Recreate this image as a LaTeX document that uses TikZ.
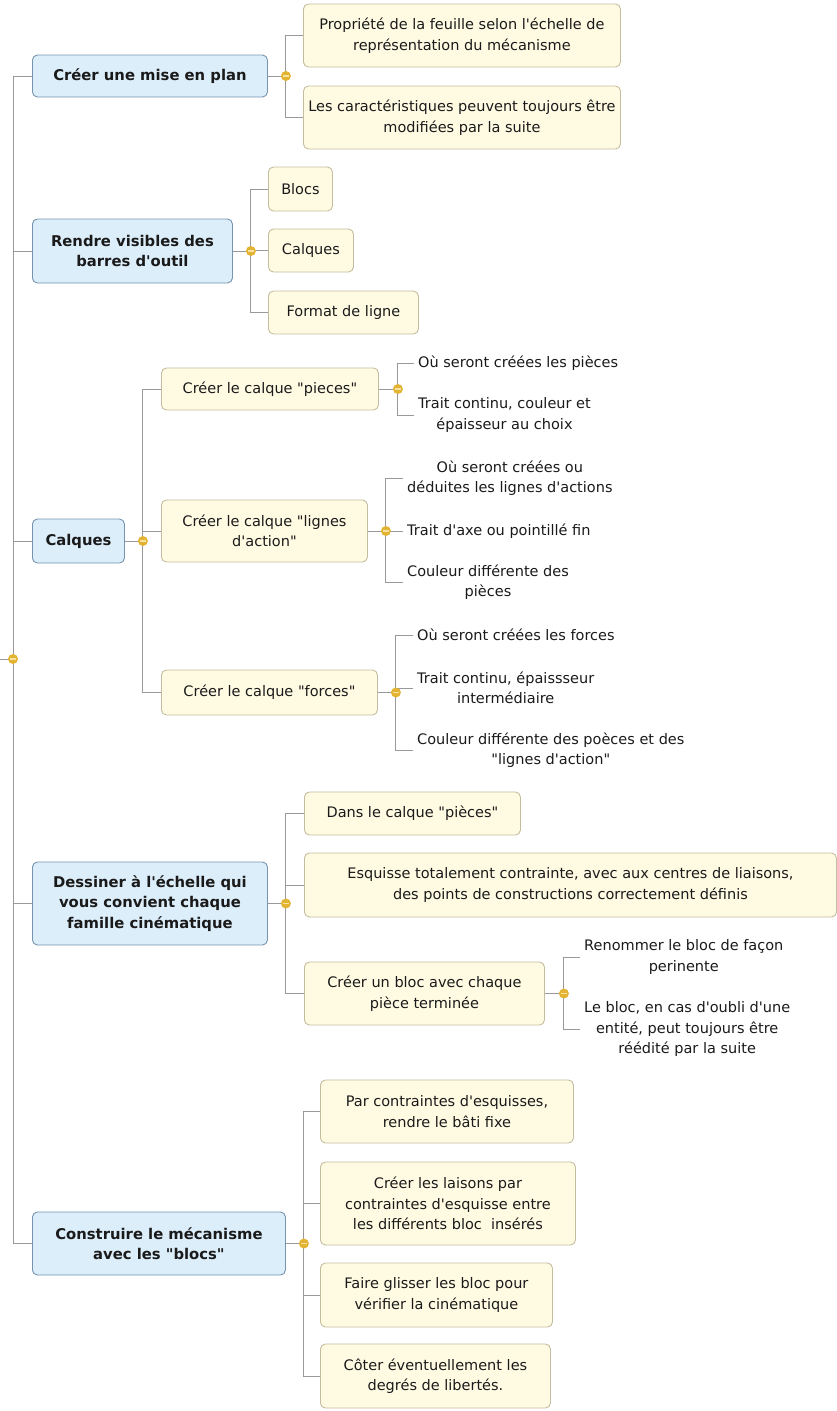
\documentclass[tikz,border=0pt]{standalone}
\usepackage{fontspec}
\setmainfont{DejaVu Sans}[Ligatures=TeXOff]
\usepackage{xcolor}
\usepackage{tikz}
\usetikzlibrary{shapes,arrows}
\definecolor{mblue}{HTML}{DDEEFB}
\definecolor{mbluedraw}{HTML}{7592AE}
\definecolor{bcream}{HTML}{FFFBE3}
\definecolor{bcreamdraw}{HTML}{C4BC9E}
\definecolor{lgray}{HTML}{999999}
\definecolor{kgold}{HTML}{E3B334}
\definecolor{kgoldlight}{HTML}{F7E2A0}
\definecolor{tblack}{HTML}{1A1A1A}
\tikzstyle{rectblock} = [rectangle, draw, align=center, anchor=west, rounded corners=5pt, line width=0.9pt, text=tblack, font=\fontsize{14.5}{20.5}\selectfont]
\tikzstyle{mainbox} = [rectblock, draw=mbluedraw, fill=mblue, font=\fontsize{14.8}{20.5}\selectfont\bfseries]
\tikzstyle{subbox} = [rectblock, draw=bcreamdraw, fill=bcream, inner xsep=3pt]
\tikzstyle{leaf} = [align=center, anchor=west, inner xsep=4pt, text=tblack, font=\fontsize{14.5}{20.5}\selectfont]
\tikzstyle{link} = [draw=lgray, line width=0.9pt]
\tikzstyle{knob} = [circle, fill=kgold, inner sep=0pt, minimum size=10pt, path picture={\draw[kgoldlight, line width=1.3pt] ([xshift=-2.6pt]path picture bounding box.center) -- ([xshift=2.6pt]path picture bounding box.center);}]

\begin{document}
\begin{tikzpicture}[x=1pt, y=-1pt]
    \useasboundingbox (0, 0) rectangle (837, 1411);

    % main topics
    \coordinate (rootin) at (0, 659);
    \coordinate (root) at (13, 659);
    \node[mainbox, minimum width=235pt, minimum height=42pt] at (32, 76) (m1) {Créer une mise en plan};
    \node[mainbox, minimum width=200pt, minimum height=64pt] at (32, 251) (m2) {Rendre visibles des\\barres d'outil};
    \node[mainbox, minimum width=92pt, minimum height=44pt] at (32, 541) (m3) {Calques};
    \node[mainbox, minimum width=235pt, minimum height=83pt] at (32, 903.5) (m4) {Dessiner à l'échelle qui\\vous convient chaque\\famille cinématique};
    \node[mainbox, minimum width=253pt, minimum height=63pt] at (32, 1243.5) (m5) {Construire le mécanisme\\avec les "blocs"};
    \coordinate (d1) at ([xshift=18pt]m1.east);
    \coordinate (d2) at ([xshift=18pt]m2.east);
    \coordinate (d3) at ([xshift=18pt]m3.east);
    \coordinate (d4) at ([xshift=18pt]m4.east);
    \coordinate (d5) at ([xshift=18pt]m5.east);

    % mise en plan
    \node[subbox, minimum width=317pt, minimum height=63pt] at (303, 35.5) (c11) {Propriété de la feuille selon l'échelle de\\représentation du mécanisme};
    \node[subbox, minimum width=317pt, minimum height=63pt] at (303, 117.5) (c12) {Les caractéristiques peuvent toujours être\\modifiées par la suite};

    % barres d'outil
    \node[subbox, minimum width=64pt, minimum height=44pt] at (268, 189) (c21) {Blocs};
    \node[subbox, minimum width=85pt, minimum height=43pt] at (268, 250.5) (c22) {Calques};
    \node[subbox, minimum width=150pt, minimum height=43pt] at (268, 312.5) (c23) {Format de ligne};

    % calques
    \node[subbox, minimum width=217pt, minimum height=42pt] at (161, 389) (c31) {Créer le calque "pieces"};
    \node[subbox, minimum width=206pt, minimum height=62pt] at (161, 531) (c32) {Créer le calque "lignes\\d'action"};
    \node[subbox, minimum width=216pt, minimum height=45pt] at (161, 692.5) (c33) {Créer le calque "forces"};
    \coordinate (d31) at ([xshift=19pt]c31.east);
    \coordinate (d32) at ([xshift=18pt]c32.east);
    \coordinate (d33) at ([xshift=18pt]c33.east);
    \node[leaf] at (414, 363) (l311) {Où seront créées les pièces};
    \node[leaf] at (414, 415) (l312) {Trait continu, couleur et\\épaisseur au choix};
    \node[leaf] at (403, 478) (l321) {Où seront créées ou\\déduites les lignes d'actions};
    \node[leaf] at (403, 531) (l322) {Trait d'axe ou pointillé fin};
    \node[leaf] at (403, 582) (l323) {Couleur différente des\\pièces};
    \node[leaf] at (413, 635) (l331) {Où seront créées les forces};
    \node[leaf] at (413, 688) (l332) {Trait continu, épaissseur\\intermédiaire};
    \node[leaf] at (413, 750) (l333) {Couleur différente des poèces et des\\"lignes d'action"};

    % dessiner
    \node[subbox, minimum width=216pt, minimum height=43pt] at (304, 813.5) (c41) {Dans le calque "pièces"};
    \node[subbox, minimum width=532pt, minimum height=64pt] at (304, 885) (c42) {Esquisse totalement contrainte, avec aux centres de liaisons,\\des points de constructions correctement définis};
    \node[subbox, minimum width=240pt, minimum height=63pt] at (304, 993.5) (c43) {Créer un bloc avec chaque\\pièce terminée};
    \coordinate (d43) at ([xshift=19pt]c43.east);
    \node[leaf] at (580, 957) (l431) {Renommer le bloc de façon\\perinente};
    \node[leaf] at (580, 1029) (l432) {Le bloc, en cas d'oubli d'une\\entité, peut toujours être\\réédité par la suite};

    % construire
    \node[subbox, minimum width=253pt, minimum height=63pt] at (320, 1111.5) (c51) {Par contraintes d'esquisses,\\rendre le bâti fixe};
    \node[subbox, minimum width=255pt, minimum height=83pt] at (320, 1203.5) (c52) {Créer les laisons par\\contraintes d'esquisse entre\\les différents bloc~~insérés};
    \node[subbox, minimum width=232pt, minimum height=64pt] at (320, 1295) (c53) {Faire glisser les bloc pour\\vérifier la cinématique};
    \node[subbox, minimum width=230pt, minimum height=64pt] at (320, 1376) (c54) {Côter éventuellement les\\degrés de libertés.};

    % connectors
    \path[link] (rootin) -- (root);
    \path[link] (root) |- (m1.west);
    \path[link] (root) |- (m2.west);
    \path[link] (root) |- (m3.west);
    \path[link] (root) |- (m4.west);
    \path[link] (root) |- (m5.west);
    \path[link] (m1.east) -- (d1);
    \path[link] (m2.east) -- (d2);
    \path[link] (m3.east) -- (d3);
    \path[link] (m4.east) -- (d4);
    \path[link] (m5.east) -- (d5);
    \path[link] (d1) |- (c11.west);
    \path[link] (d1) |- (c12.west);
    \path[link] (d2) |- (c21.west);
    \path[link] (d2) |- (c22.west);
    \path[link] (d2) |- (c23.west);
    \path[link] (d3) |- (c31.west);
    \path[link] (d3) |- (c32.west);
    \path[link] (d3) |- (c33.west);
    \path[link] (c31.east) -- (d31);
    \path[link] (c32.east) -- (d32);
    \path[link] (c33.east) -- (d33);
    \path[link] (d31) |- (l311.west);
    \path[link] (d31) |- (l312.west);
    \path[link] (d32) |- (l321.west);
    \path[link] (d32) |- (l322.west);
    \path[link] (d32) |- (l323.west);
    \path[link] (d33) |- (l331.west);
    \path[link] (d33) |- (l332.west);
    \path[link] (d33) |- (l333.west);
    \path[link] (d4) |- (c41.west);
    \path[link] (d4) |- (c42.west);
    \path[link] (d4) |- (c43.west);
    \path[link] (c43.east) -- (d43);
    \path[link] (d43) |- (l431.west);
    \path[link] (d43) |- (l432.west);
    \path[link] (d5) |- (c51.west);
    \path[link] (d5) |- (c52.west);
    \path[link] (d5) |- (c53.west);
    \path[link] (d5) |- (c54.west);

    % collapse knobs
    \node[knob] at (root) (k0) {};
    \node[knob] at (d1) (k1) {};
    \node[knob] at (d2) (k2) {};
    \node[knob] at (d3) (k3) {};
    \node[knob] at (d4) (k4) {};
    \node[knob] at (d5) (k5) {};
    \node[knob] at (d31) (k31) {};
    \node[knob] at (d32) (k32) {};
    \node[knob] at (d33) (k33) {};
    \node[knob] at (d43) (k43) {};

\end{tikzpicture}
\end{document}
